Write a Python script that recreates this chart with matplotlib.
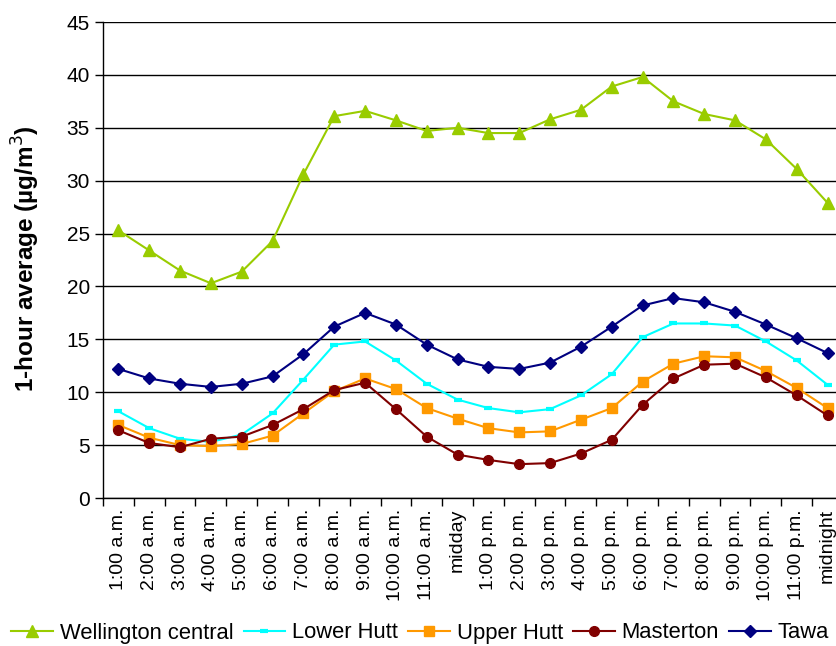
import matplotlib
matplotlib.use("Agg")
import matplotlib.pyplot as plt
import numpy as np

hours = ["1:00 a.m.", "2:00 a.m.", "3:00 a.m.", "4:00 a.m.", "5:00 a.m.", "6:00 a.m.",
         "7:00 a.m.", "8:00 a.m.", "9:00 a.m.", "10:00 a.m.", "11:00 a.m.", "midday",
         "1:00 p.m.", "2:00 p.m.", "3:00 p.m.", "4:00 p.m.", "5:00 p.m.", "6:00 p.m.",
         "7:00 p.m.", "8:00 p.m.", "9:00 p.m.", "10:00 p.m.", "11:00 p.m.", "midnight"]

wellington = [25.3, 23.4, 21.5, 20.3, 21.4, 24.3, 30.6, 36.1, 36.6, 35.7, 34.7, 35.0,
              34.5, 34.5, 35.8, 36.7, 38.9, 39.8, 37.5, 36.3, 35.7, 33.9, 31.1, 27.9]
lower_hutt = [8.2, 6.6, 5.6, 5.3, 6.0, 8.0, 11.2, 14.5, 14.8, 13.0, 10.8, 9.3,
              8.5, 8.1, 8.4, 9.7, 11.7, 15.2, 16.5, 16.5, 16.3, 14.8, 13.0, 10.7]
upper_hutt = [6.9, 5.7, 5.0, 4.9, 5.1, 5.9, 8.0, 10.1, 11.3, 10.3, 8.5, 7.5,
              6.6, 6.2, 6.3, 7.4, 8.5, 11.0, 12.7, 13.4, 13.3, 12.0, 10.4, 8.5]
masterton = [6.4, 5.2, 4.8, 5.6, 5.8, 6.9, 8.4, 10.2, 10.9, 8.4, 5.8, 4.1,
             3.6, 3.2, 3.3, 4.2, 5.5, 8.8, 11.3, 12.6, 12.7, 11.4, 9.7, 7.8]
tawa = [12.2, 11.3, 10.8, 10.5, 10.8, 11.5, 13.6, 16.2, 17.5, 16.4, 14.5, 13.1,
        12.4, 12.2, 12.8, 14.3, 16.2, 18.2, 18.9, 18.5, 17.6, 16.4, 15.1, 13.7]

plt.rcParams['font.family'] = ['Liberation Sans', 'DejaVu Sans']

fig = plt.figure(figsize=(8.37, 6.46), dpi=100)
ax = fig.add_axes([103/837, 1-498/646, 740/837, 476/646])

x = np.arange(len(hours))
lw = 1.5
ax.plot(x, wellington, color='#99CC00', lw=lw, marker='^', ms=8.5, label='Wellington central', zorder=3)
ax.plot(x, lower_hutt, color='#00FFFF', lw=lw, marker='_', ms=6, mew=3, label='Lower Hutt', zorder=3)
ax.plot(x, upper_hutt, color='#FF9900', lw=lw, marker='s', ms=7, label='Upper Hutt', zorder=3)
ax.plot(x, masterton, color='#800000', lw=lw, marker='o', ms=7, label='Masterton', zorder=3)
ax.plot(x, tawa, color='#000080', lw=lw, marker='D', ms=6.5, label='Tawa', zorder=3)

ax.set_xlim(-0.5, len(hours) - 0.5)
ax.set_ylim(0, 45)
ax.set_yticks(np.arange(0, 46, 5))
ax.yaxis.grid(True, color='black', lw=1)
ax.set_axisbelow(True)

ax.set_xticks(x)
ax.set_xticklabels(hours, rotation=90, fontsize=14)
ax.set_xticks(np.arange(-0.5, len(hours), 1), minor=True)
ax.tick_params(axis='x', which='major', length=0, pad=8)
ax.tick_params(axis='x', which='minor', length=6, width=1, direction='out')
ax.tick_params(axis='y', labelsize=15, length=6, width=1, direction='out')

for s in ['top', 'right']:
    ax.spines[s].set_visible(False)
ax.spines['left'].set_linewidth(1)
ax.spines['bottom'].set_linewidth(1)

ax.set_ylabel('1-hour average (µg/m$^3$)', fontsize=17.5, fontweight='bold')
ax.yaxis.set_label_coords((42 - 103) / 740, (498 - 259) / 476)

fig.legend(loc='center', bbox_to_anchor=(0.502, 1-633/646), ncol=5, frameon=False,
           fontsize=15.8, handlelength=1.9, handletextpad=0.32, columnspacing=0.45,
           borderaxespad=0)

fig.savefig('out.png', dpi=100)
